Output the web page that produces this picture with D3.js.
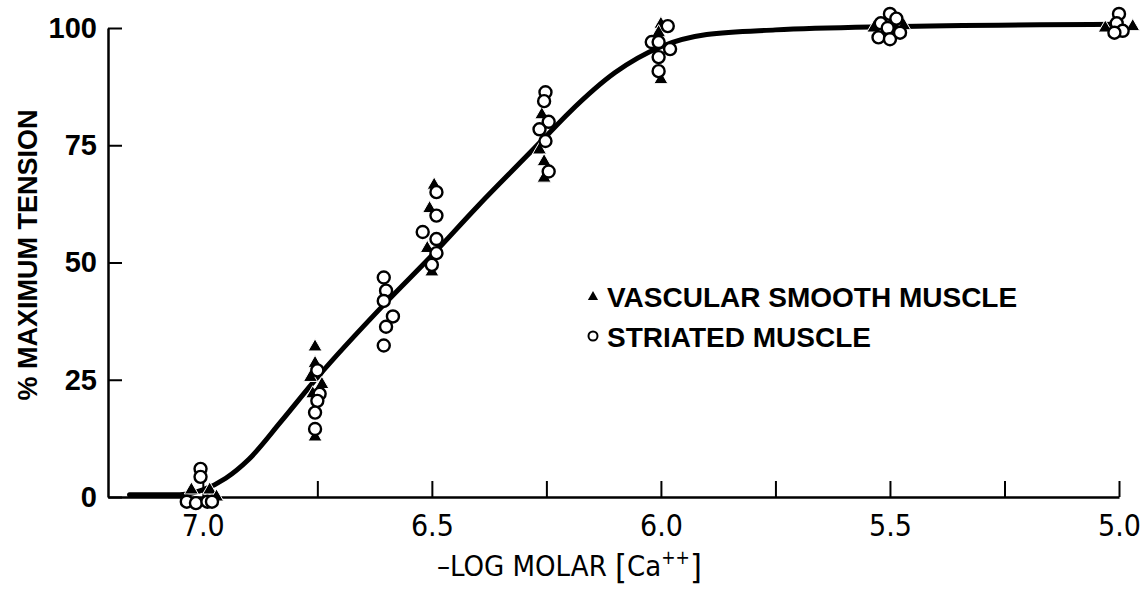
<!DOCTYPE html>
<html><head><meta charset="utf-8">
<script src="https://cdn.jsdelivr.net/npm/d3@7"></script>
<style>
body{margin:0;background:#fff;}
svg{display:block;}
.narrow{font-family:"Liberation Sans Narrow","Arial Narrow","DejaVu Sans Condensed",sans-serif;}
.bold{font-family:"Liberation Sans",Arial,sans-serif;font-weight:bold;}
</style></head>
<body>
<svg id="chart" width="1144" height="589"></svg>
<script>
// ---- data ----
const xTicks = [7.0, 6.75, 6.5, 6.25, 6.0, 5.75, 5.5, 5.25, 5.0];
const yTicks = [0, 25, 50, 75, 100];
const curveX = [7.16, 7.05, 7.0, 6.95, 6.9, 6.83, 6.75, 6.6, 6.5, 6.4, 6.3, 6.25, 6.2, 6.1, 6.0, 5.9, 5.75, 5.5, 5.0];
const curveY = [0.5, 0.5, 1.5, 4, 8, 16, 25.5, 41.5, 51.5, 62, 72, 77, 82, 90.5, 96, 98.6, 99.6, 100.3, 100.8];
const vascularX = [7.025, 6.985, 6.97, 6.755, 6.755, 6.765, 6.74, 6.76, 6.755, 6.495, 6.505, 6.51, 6.50, 6.26, 6.265, 6.255, 6.255, 6.0, 6.005, 6.0, 5.535, 5.47, 5.51, 5.03, 4.97];
const vascularY = [1.5, 1.5, 0, 32, 28.5, 25.5, 24, 22, 12.8, 66.5, 61.5, 53, 48, 81.5, 74, 71.5, 68, 100.8, 99, 89, 100, 100.5, 99.5, 100, 100.3];
const striatedX = [7.005, 7.005, 7.035, 7.015, 6.99, 6.98, 6.75, 6.745, 6.75, 6.755, 6.755, 6.605, 6.6, 6.605, 6.585, 6.6, 6.605, 6.49, 6.49, 6.52, 6.49, 6.49, 6.5, 6.252, 6.255, 6.245, 6.265, 6.252, 6.245, 5.985, 6.02, 6.005, 5.98, 6.005, 6.005, 5.5, 5.486, 5.52, 5.505, 5.525, 5.5, 5.478, 5.0, 5.005, 4.992, 5.01];
const striatedY = [6, 4.3, -1, -1.3, -1, -1, 27, 22, 20.5, 18, 14.5, 46.8, 44, 41.8, 38.5, 36.3, 32.3, 65, 60, 56.5, 55, 52, 49.5, 86.3, 84.4, 80, 78.4, 75.9, 69.4, 100.4, 97, 97, 95.5, 93.8, 90.8, 103, 102, 101, 100, 98, 97.6, 99, 103, 101, 99.4, 99];
const legendLabels = ["VASCULAR SMOOTH MUSCLE", "STRIATED MUSCLE"];

// ---- scales ----
const svg = d3.select("#chart");
const x = d3.scaleLinear().domain([7.207, 5.0]).range([108, 1119]);
const y = d3.scaleLinear().domain([0, 100]).range([497, 28]);

// axes
const xAxis = d3.axisBottom(x).tickValues(xTicks).tickSize(-16).tickSizeOuter(0).tickPadding(16)
  .tickFormat(d => (Math.round(d * 100) % 50 === 0) ? d.toFixed(1) : "");
const gx = svg.append("g").attr("transform", `translate(0,${y(0)})`).call(xAxis);
gx.select(".domain").attr("stroke-width", 2.5);
gx.selectAll(".tick line").attr("stroke-width", 2);
gx.selectAll(".tick text").attr("class", "narrow").attr("font-size", 30).attr("fill", "#000").attr("dy", "0.75em");

const yAxis = d3.axisLeft(y).tickValues(yTicks).tickSize(-14).tickSizeOuter(0).tickPadding(11)
  .tickFormat(d3.format("d"));
const gy = svg.append("g").attr("transform", `translate(108,0)`).call(yAxis);
gy.select(".domain").attr("stroke-width", 2.5);
gy.selectAll(".tick line").attr("stroke-width", 2);
gy.selectAll(".tick text").attr("class", "bold").attr("font-size", 29).attr("fill", "#000");

// curve
const pts = curveX.map((v, i) => [v, curveY[i]]);
svg.append("path").datum(pts)
  .attr("d", d3.line().x(d => x(d[0])).y(d => y(d[1])).curve(d3.curveMonotoneX))
  .attr("fill", "none").attr("stroke", "#000").attr("stroke-width", 5).attr("stroke-linecap", "round");

// markers
const tri = d3.symbol().type(d3.symbolTriangle).size(85);
svg.append("g").selectAll("path").data(vascularX.map((v, i) => [v, vascularY[i]])).join("path")
  .attr("d", tri).attr("transform", d => `translate(${x(d[0])},${y(d[1])})`)
  .attr("fill", "#000").attr("stroke", "#fff").attr("stroke-width", 1);
svg.append("g").selectAll("circle").data(striatedX.map((v, i) => [v, striatedY[i]])).join("circle")
  .attr("cx", d => x(d[0])).attr("cy", d => y(d[1])).attr("r", 6)
  .attr("fill", "#fff").attr("stroke", "#000").attr("stroke-width", 2.4);

// legend
const lg = svg.append("g");
lg.append("path").attr("d", d3.symbol().type(d3.symbolTriangle).size(45)).attr("transform", "translate(593,297)").attr("fill", "#000");
lg.append("circle").attr("cx", 593).attr("cy", 336).attr("r", 4.5).attr("fill", "#fff").attr("stroke", "#000").attr("stroke-width", 2);
lg.selectAll("text").data(legendLabels).join("text")
  .attr("class", "bold").attr("x", 607).attr("y", (d, i) => 307 + i * 40)
  .attr("font-size", 28).text(d => d);

// axis titles
svg.append("text").attr("class", "bold").attr("font-size", 27)
  .attr("transform", "translate(37,255) rotate(-90)").attr("text-anchor", "middle").text("% MAXIMUM TENSION");
const xt = svg.append("text").attr("class", "narrow").attr("font-size", 29).attr("x", 437).attr("y", 576);
xt.append("tspan").text("\u2013LOG MOLAR ");
xt.append("tspan").attr("font-size", 34).attr("dy", 3).text("[");
xt.append("tspan").attr("dy", -3).text("Ca");
xt.append("tspan").attr("font-size", 19).attr("dy", -12).text("++");
xt.append("tspan").attr("font-size", 34).attr("dy", 15).text("]");
</script>
</body></html>
